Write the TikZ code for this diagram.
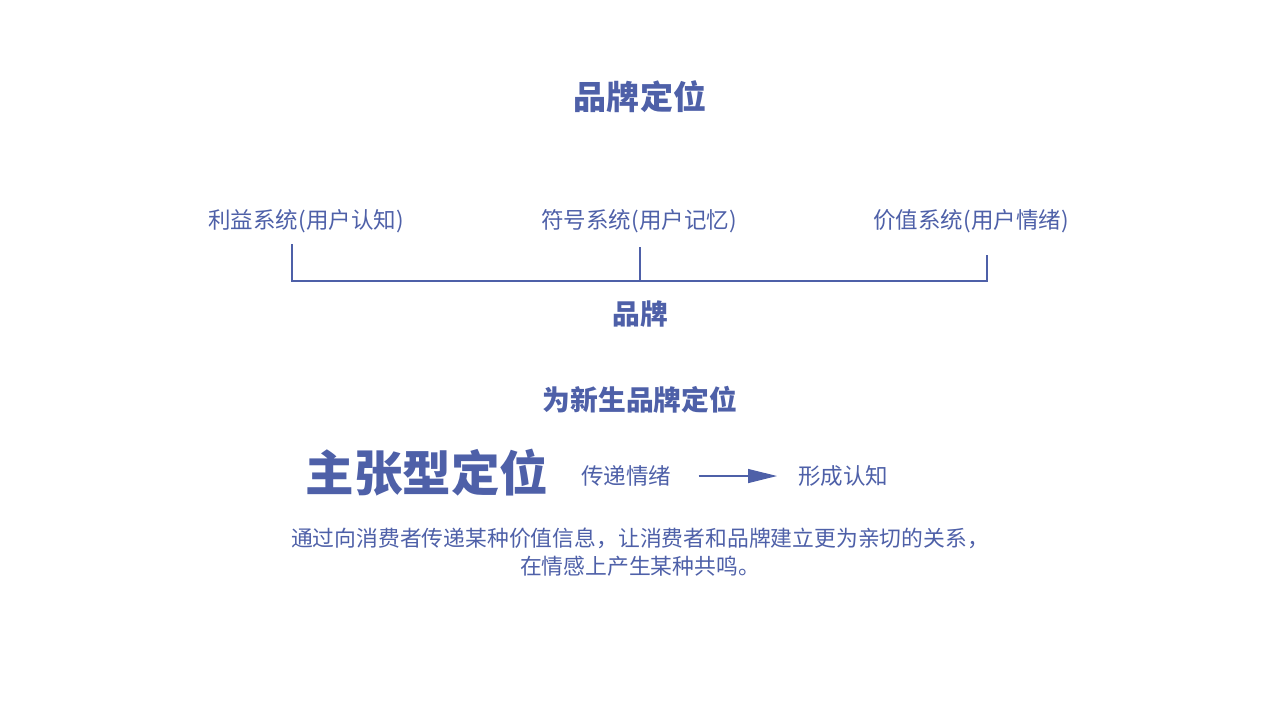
\documentclass[tikz,border=0pt]{standalone}
\usepackage{fontspec}
\usepackage{tikz}
\usetikzlibrary{arrows.meta}
\newfontfamily\cjk{Noto Sans CJK SC}
\definecolor{brandblue}{RGB}{78,96,168}

\begin{document}
\begin{tikzpicture}[x=0.01cm, y=-0.01cm, text=brandblue,
    every node/.style={font=\cjk\fontsize{6.4}{8}\selectfont, inner sep=0pt},
    heading/.style={font=\cjk\bfseries\fontsize{7.9}{9}\selectfont},
    bracketline/.style={draw=brandblue, line width=0.12mm}]
    \useasboundingbox (0,0) rectangle (1280,720);

    \node [heading, font=\cjk\bfseries\fontsize{9.4}{11}\selectfont] (title) at (640,97) {品牌定位};

    \node (benefit) at (306,221) {利益系统(用户认知)};
    \node (symbol)  at (639,221) {符号系统(用户记忆)};
    \node (value)   at (971,221) {价值系统(用户情绪)};

    \coordinate (benefittop) at (292,244);
    \coordinate (symboltop)  at (640,247);
    \coordinate (valuetop)   at (987,255);
    \draw [bracketline] (benefittop) |- (symboltop |- 0,281) -| (valuetop);
    \draw [bracketline] (symboltop) -- (symboltop |- 0,281);

    \node [heading] (brand) at (640,314) {品牌};

    \node [heading] (newbrand) at (640,400) {为新生品牌定位};

    \node [font=\cjk\bfseries\fontsize{13.8}{15}\selectfont] (claim) at (427,473) {主张型定位};
    \node (convey) at (626,476) {传递情绪};
    \node (aware)  at (843,476) {形成认知};
    \draw [brandblue, line width=0.12mm, -{Triangle[length=0.29cm, width=0.14cm]}]
        (convey.east) ++(27,0) coordinate (arrowstart) -- (aware.west -| 777,0);

    \node [align=center, font=\cjk\fontsize{6.2}{8}\selectfont] (desc) at (640,552)
        {通过向消费者传递某种价值信息，让消费者和品牌建立更为亲切的关系，\\在情感上产生某种共鸣。};
\end{tikzpicture}
\end{document}
